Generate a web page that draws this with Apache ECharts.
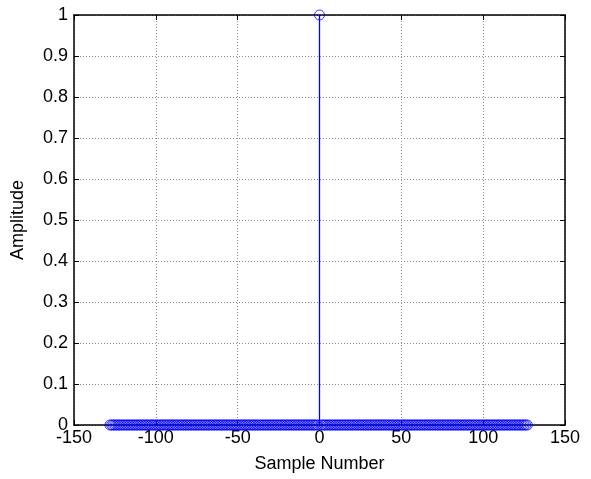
<!DOCTYPE html>
<html>
<head>
<meta charset="utf-8">
<script src="https://cdn.jsdelivr.net/npm/echarts@6/dist/echarts.min.js"></script>
<style>
  html, body { margin: 0; padding: 0; background: #fff; }
  #chart { width: 591px; height: 479px; }
</style>
</head>
<body>
<div id="chart"></div>
<script>
// Unit impulse: sample index n and amplitude x[n]
const sampleNumbers = [
  -128,-127,-126,-125,-124,-123,-122,-121,-120,-119,-118,-117,-116,-115,-114,-113,
  -112,-111,-110,-109,-108,-107,-106,-105,-104,-103,-102,-101,-100,-99,-98,-97,
  -96,-95,-94,-93,-92,-91,-90,-89,-88,-87,-86,-85,-84,-83,-82,-81,
  -80,-79,-78,-77,-76,-75,-74,-73,-72,-71,-70,-69,-68,-67,-66,-65,
  -64,-63,-62,-61,-60,-59,-58,-57,-56,-55,-54,-53,-52,-51,-50,-49,
  -48,-47,-46,-45,-44,-43,-42,-41,-40,-39,-38,-37,-36,-35,-34,-33,
  -32,-31,-30,-29,-28,-27,-26,-25,-24,-23,-22,-21,-20,-19,-18,-17,
  -16,-15,-14,-13,-12,-11,-10,-9,-8,-7,-6,-5,-4,-3,-2,-1,
  0,1,2,3,4,5,6,7,8,9,10,11,12,13,14,15,
  16,17,18,19,20,21,22,23,24,25,26,27,28,29,30,31,
  32,33,34,35,36,37,38,39,40,41,42,43,44,45,46,47,
  48,49,50,51,52,53,54,55,56,57,58,59,60,61,62,63,
  64,65,66,67,68,69,70,71,72,73,74,75,76,77,78,79,
  80,81,82,83,84,85,86,87,88,89,90,91,92,93,94,95,
  96,97,98,99,100,101,102,103,104,105,106,107,108,109,110,111,
  112,113,114,115,116,117,118,119,120,121,122,123,124,125,126,127
];
const amplitudes = [
  0,0,0,0,0,0,0,0,0,0,0,0,0,0,0,0,
  0,0,0,0,0,0,0,0,0,0,0,0,0,0,0,0,
  0,0,0,0,0,0,0,0,0,0,0,0,0,0,0,0,
  0,0,0,0,0,0,0,0,0,0,0,0,0,0,0,0,
  0,0,0,0,0,0,0,0,0,0,0,0,0,0,0,0,
  0,0,0,0,0,0,0,0,0,0,0,0,0,0,0,0,
  0,0,0,0,0,0,0,0,0,0,0,0,0,0,0,0,
  0,0,0,0,0,0,0,0,0,0,0,0,0,0,0,0,
  1,0,0,0,0,0,0,0,0,0,0,0,0,0,0,0,
  0,0,0,0,0,0,0,0,0,0,0,0,0,0,0,0,
  0,0,0,0,0,0,0,0,0,0,0,0,0,0,0,0,
  0,0,0,0,0,0,0,0,0,0,0,0,0,0,0,0,
  0,0,0,0,0,0,0,0,0,0,0,0,0,0,0,0,
  0,0,0,0,0,0,0,0,0,0,0,0,0,0,0,0,
  0,0,0,0,0,0,0,0,0,0,0,0,0,0,0,0,
  0,0,0,0,0,0,0,0,0,0,0,0,0,0,0,0
];
const xLabel = 'Sample Number';
const yLabel = 'Amplitude';

const points = sampleNumbers.map((n, i) => [n, amplitudes[i]]);
// each stem is its own segment from the baseline up to the sample value
const stems = [];
sampleNumbers.forEach((n, i) => {
  stems.push([n, 0], [n, amplitudes[i]], '-');
});

const stemColor = '#0000ff';
const font = 'Liberation Sans, Arial, sans-serif';

const chart = echarts.init(document.getElementById('chart'));

function labelStyle() {
  return { color: '#000', fontFamily: font, fontSize: 18 };
}
function gridLine() {
  return { show: true, lineStyle: { color: '#8c8c8c', type: [1, 2], width: 1 } };
}
function boxLine() {
  return { onZero: false, lineStyle: { color: '#000', width: 1.5 } };
}
function boxTick() {
  return { inside: true, length: 5, lineStyle: { color: '#000' } };
}

chart.setOption({
  animation: false,
  grid: { left: 74, right: 26, top: 15, bottom: 54, containLabel: false, outerBoundsMode: 'none' },
  xAxis: [
    {
      type: 'value', min: -150, max: 150, interval: 50,
      name: xLabel, nameLocation: 'middle', nameGap: 30,
      nameTextStyle: labelStyle(),
      axisLine: boxLine(), axisTick: boxTick(),
      axisLabel: Object.assign({ margin: 4 }, labelStyle()),
      splitLine: gridLine()
    },
    {
      type: 'value', min: -150, max: 150, interval: 50, position: 'top',
      axisLine: boxLine(), axisTick: boxTick(),
      axisLabel: { show: false }, splitLine: { show: false }
    }
  ],
  yAxis: [
    {
      type: 'value', min: 0, max: 1, interval: 0.1,
      name: yLabel, nameLocation: 'middle', nameGap: 47,
      nameTextStyle: labelStyle(),
      axisLine: boxLine(), axisTick: boxTick(),
      axisLabel: Object.assign({ margin: 6, formatter: v => String(Math.round(v * 10) / 10) }, labelStyle()),
      splitLine: gridLine()
    },
    {
      type: 'value', min: 0, max: 1, interval: 0.1, position: 'right',
      axisLine: boxLine(), axisTick: boxTick(),
      axisLabel: { show: false }, splitLine: { show: false }
    }
  ],
  series: [
    {
      // stems
      type: 'line',
      xAxisIndex: 0, yAxisIndex: 0,
      data: stems,
      symbol: 'none',
      lineStyle: { color: stemColor, width: 1.3 },
      zlevel: 1
    },
    {
      // open circle markers at each sample
      type: 'scatter',
      xAxisIndex: 0, yAxisIndex: 0,
      data: points,
      symbol: 'circle',
      symbolSize: 10,
      itemStyle: { color: 'rgba(0,0,255,0)', borderColor: stemColor, borderWidth: 1 },
      zlevel: 1
    }
  ]
});
</script>
</body>
</html>
